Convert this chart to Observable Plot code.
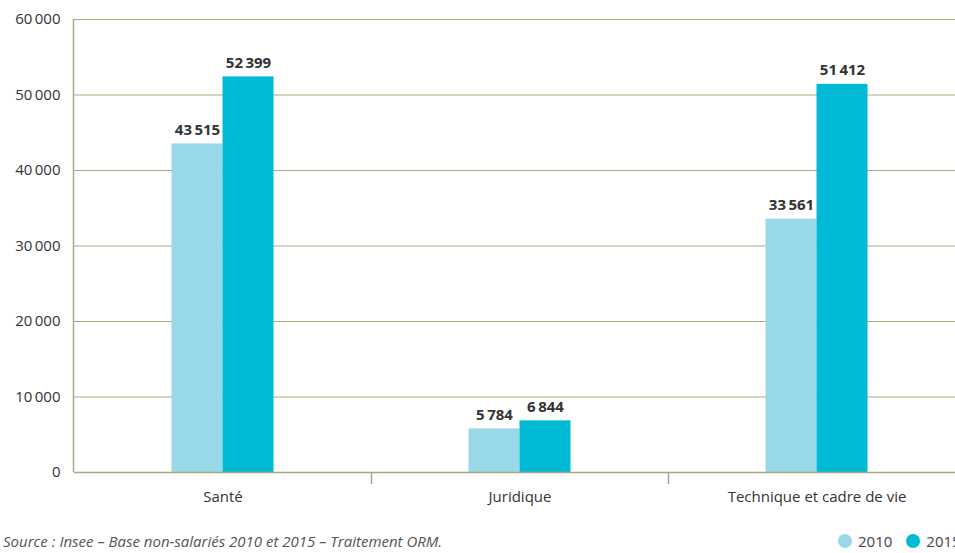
<!DOCTYPE html>
<html><head><meta charset="utf-8">
<script src="https://cdn.jsdelivr.net/npm/d3@7"></script>
<script src="https://cdn.jsdelivr.net/npm/@observablehq/plot@0.6"></script>
<style>
html,body{margin:0;padding:0;background:#fff;overflow:hidden;width:955px;height:553px;}
#wrap{position:relative;width:955px;height:553px;font-family:"Open Sans",sans-serif;overflow:hidden;}
#source{position:absolute;left:3px;top:531px;font-size:15px;line-height:20px;font-style:italic;color:#555;white-space:nowrap;}
#legend{position:absolute;left:838px;top:531px;font-size:15px;line-height:20px;color:#444;white-space:nowrap;display:flex;}
#legend span.it{display:inline-flex;align-items:center;margin-right:14px;}
#legend i{display:inline-block;width:14px;height:14px;border-radius:50%;margin-right:6px;}
</style>
</head><body><div id="wrap"><div id="chart"></div>
<div id="source">Source : Insee – Base non-salariés 2010 et 2015 – Traitement ORM.</div>
<div id="legend"></div></div>
<script>
const categories = ["Santé", "Juridique", "Technique et cadre de vie"];
const years = ["2010", "2015"];
const values2010 = [43515, 5784, 33561];
const values2015 = [52399, 6844, 51412];
const yTicks = [0, 10000, 20000, 30000, 40000, 50000, 60000];
const colors = ["#98d8e8", "#00bad6"];

const data = categories.flatMap((c, i) => [
  {cat: c, year: years[0], value: values2010[i]},
  {cat: c, year: years[1], value: values2015[i]}
]);
const fmt = v => d3.format(",")(v).replace(/,/g, "\u2009");
const olive = "#aca883";
const half = 297 / 2, bw = 51;
const inset = {
  "2010": [half - bw, half],
  "2015": [half, half - bw]
};

const chart = Plot.plot({
  width: 955, height: 553,
  marginTop: 19, marginBottom: 81, marginLeft: 74, marginRight: -10,
  style: {fontFamily: "Open Sans, sans-serif", fontSize: "15px", color: "#333", overflow: "visible"},
  x: {domain: categories, padding: 0, label: null, axis: null},
  y: {domain: [0, 60000], label: null, axis: null},
  color: {domain: years, range: colors},
  marks: [
    Plot.gridY(yTicks, {stroke: olive, strokeOpacity: 1, strokeWidth: 1}),
    Plot.axisY(yTicks, {tickSize: 0, tickPadding: 14, tickFormat: fmt, fill: "#333", fontSize: 15, label: null}),
    Plot.barY(data.filter(d => d.year === "2010"), {x: "cat", y: "value", fill: "year", insetLeft: inset["2010"][0], insetRight: inset["2010"][1]}),
    Plot.barY(data.filter(d => d.year === "2015"), {x: "cat", y: "value", fill: "year", insetLeft: inset["2015"][0], insetRight: inset["2015"][1]}),
    Plot.text(data.filter(d => d.year === "2010"), {x: "cat", y: "value", text: d => fmt(d.value), fontWeight: "bold", fontSize: 15, fill: "#333", dy: -14, dx: -bw / 2}),
    Plot.text(data.filter(d => d.year === "2015"), {x: "cat", y: "value", text: d => fmt(d.value), fontWeight: "bold", fontSize: 15, fill: "#333", dy: -14, dx: bw / 2}),
    Plot.ruleY([0], {stroke: olive, strokeWidth: 1.5}),
    Plot.axisX(categories.slice(0, 2), {tickSize: 12, text: null, dx: half, stroke: olive, strokeWidth: 1.5}),
    Plot.axisX(categories, {tickSize: 0, tickPadding: 19, fill: "#333", fontSize: 15, label: null})
  ]
});
document.getElementById("chart").appendChild(chart);
const svg = d3.select(chart);
const yScale = chart.scale("y");
svg.append("line").attr("x1", 73.5).attr("x2", 73.5).attr("y1", yScale.apply(60000)).attr("y2", yScale.apply(0))
  .attr("stroke", olive).attr("stroke-width", 1.5);

const legend = document.getElementById("legend");
years.forEach((y, i) => {
  const s = document.createElement("span");
  s.className = "it";
  s.innerHTML = `<i style="background:${colors[i]}"></i>${y}`;
  legend.appendChild(s);
});
</script></body></html>
